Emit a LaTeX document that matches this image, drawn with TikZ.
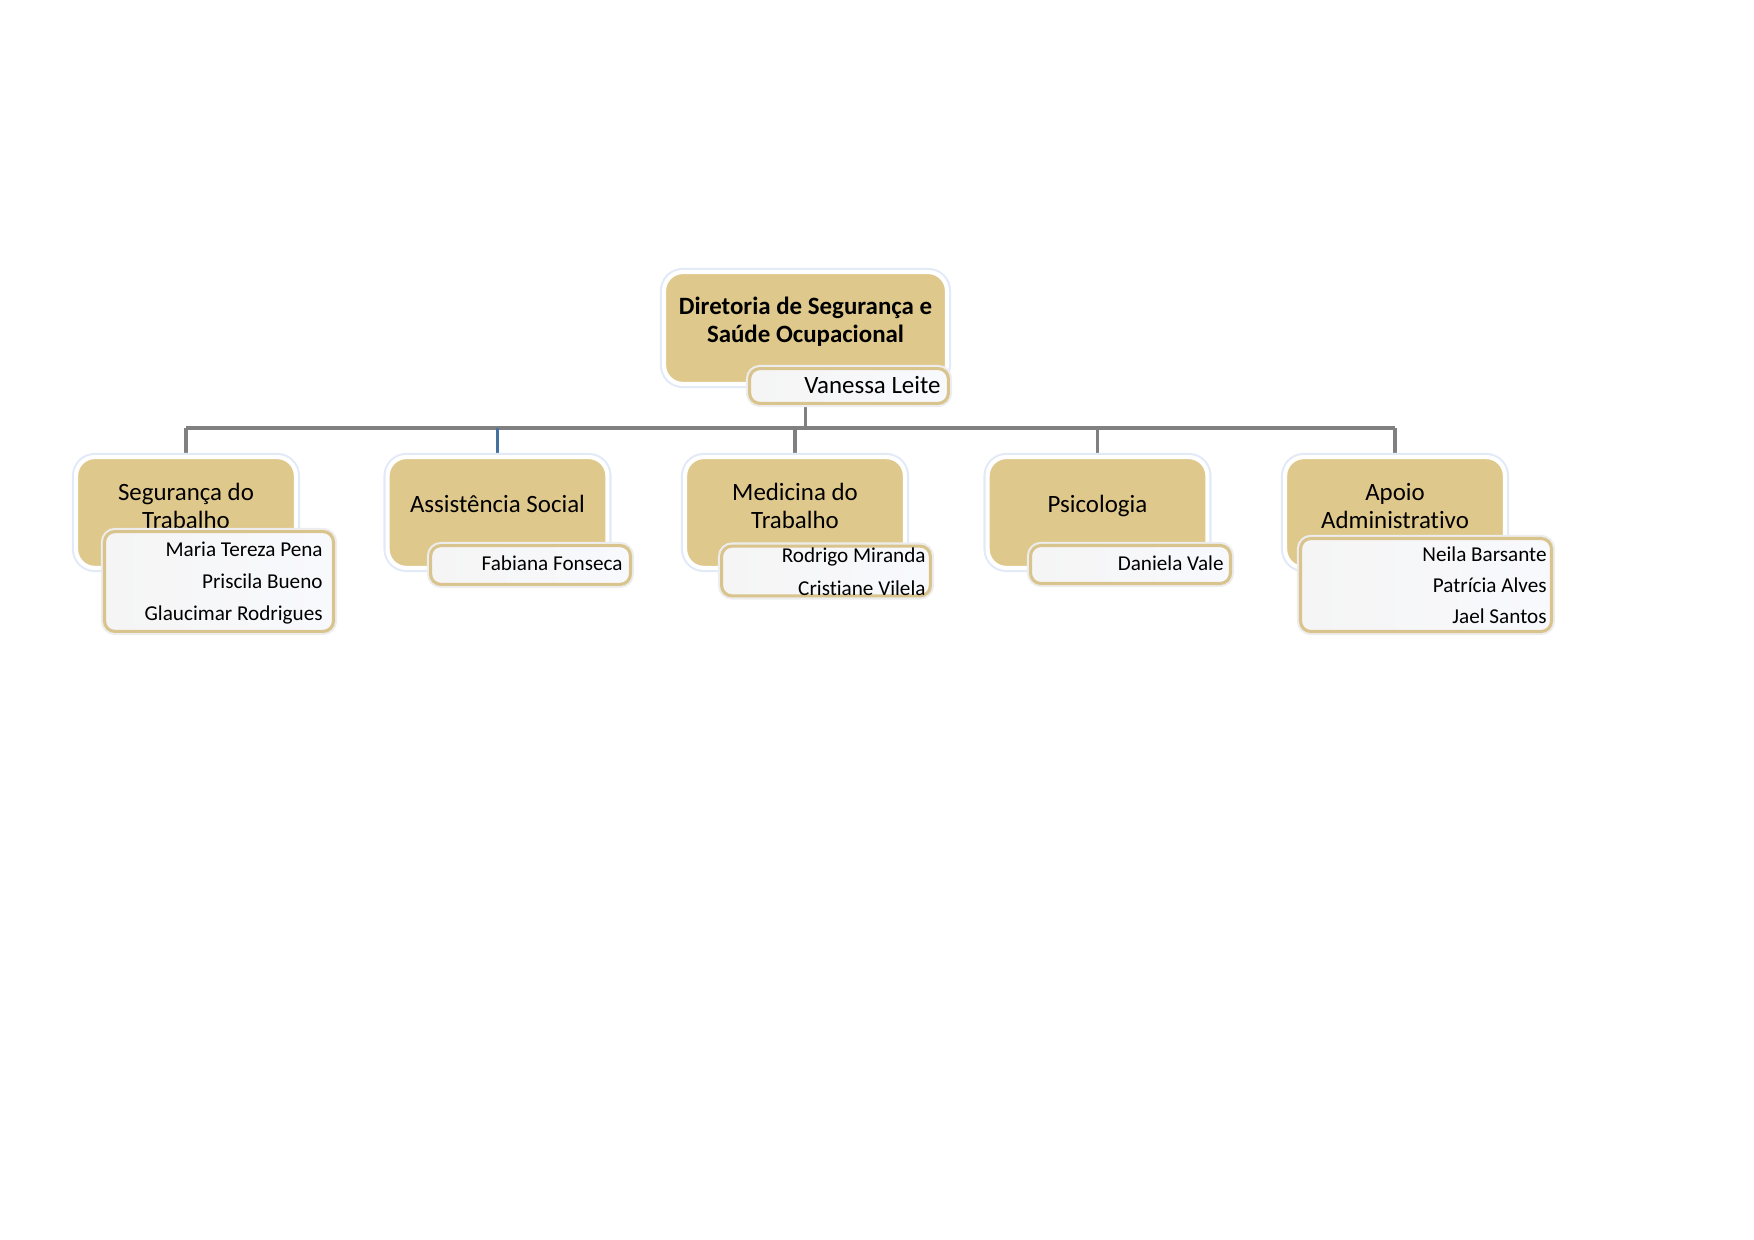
\documentclass[tikz,border=0pt]{standalone}
\usepackage{fontspec}
\setmainfont{Carlito}[Ligatures=NoCommon]
\usetikzlibrary{backgrounds}
\definecolor{boxtan}{RGB}{223,200,139}
\definecolor{tanborder}{RGB}{217,196,142}
\definecolor{glow}{RGB}{226,234,247}
\definecolor{conngray}{RGB}{128,128,128}
\definecolor{connblue}{RGB}{68,114,160}
\definecolor{nameL}{RGB}{245,245,245}
\definecolor{nameR}{RGB}{248,249,253}
\begin{document}
\begin{tikzpicture}[x=0.48181pt,y=-0.48181pt,
  mainbox/.style={draw=white, line width=2pt, fill=boxtan, rounded corners=9pt,
    minimum width=105.9pt, minimum height=53.4pt, inner sep=0pt,
    preaction={draw=glow, line width=4pt}},
  maintext/.style={align=center, font=\fontsize{12}{13.5}\selectfont, inner sep=0pt},
  namebox/.style={draw=tanborder, line width=1.5pt, rounded corners=5pt,
    left color=nameL, right color=nameR, inner sep=0pt,
    preaction={draw=black!7, line width=3.5pt}},
  nametext/.style={anchor=base east, font=\fontsize{10.2}{12}\selectfont, inner sep=0pt},
  conn/.style={draw=conngray, line width=1.7pt},
  connb/.style={draw=connblue, line width=1.7pt}
]
\useasboundingbox (0,0) rectangle (1754,1240);

% top
\node[mainbox, minimum width=136.3pt, minimum height=53.9pt] (top) at (805.5,328) {};
\node[maintext, font=\bfseries\fontsize{12}{13.5}\selectfont] (toptxt) at (805.5,322) {Diretoria de Segurança e\\Saúde Ocupacional};
\node[namebox, minimum width=95.8pt, minimum height=16.8pt] (topnames) at (849,386) {};
\node[nametext, font=\fontsize{12}{13}\selectfont] (vanessa) at (941,394) {Vanessa Leite};

% children
\node[mainbox] (seg) at (186,512.5) {};
\node[maintext] (segtxt) at (186,506) {Segurança do\\Trabalho};
\node[mainbox] (asst) at (497.5,512.5) {};
\node[maintext, anchor=base] (assttxt) at (497.5,513) {Assistência Social};
\node[mainbox] (med) at (795,512.5) {};
\node[maintext] (medtxt) at (795,506) {Medicina do\\Trabalho};
\node[mainbox] (psi) at (1097.5,512.5) {};
\node[maintext, anchor=base] (psitxt) at (1097.5,513) {Psicologia};
\node[mainbox] (apoio) at (1395,512.5) {};
\node[maintext] (apoiotxt) at (1395,506) {Apoio\\Administrativo};

% name boxes
\node[namebox, minimum width=110.3pt, minimum height=48.1pt] (segnames) at (219,581.5) {};
\node[nametext] (n1) at (323,557) {Maria Tereza Pena};
\node[nametext] (n2) at (323,589) {Priscila Bueno};
\node[nametext] (n3) at (323,621) {Glaucimar Rodrigues};

\node[namebox, minimum width=96.3pt, minimum height=18.7pt] (asstnames) at (530.5,565) {};
\node[nametext] (n4) at (623,571) {Fabiana Fonseca};

\node[namebox, minimum width=100.6pt, minimum height=24pt] (mednames) at (826,571) {};
\node[nametext] (n5) at (926,563) {Rodrigo Miranda};
\node[nametext] (n6) at (926,595) {Cristiane Vilela};

\node[namebox, minimum width=96.3pt, minimum height=18.3pt] (psinames) at (1130.5,564.5) {};
\node[nametext] (n7) at (1224,571) {Daniela Vale};

\node[namebox, minimum width=120.9pt, minimum height=44.8pt] (apoionames) at (1426,585) {};
\node[nametext] (n8) at (1547,562) {Neila Barsante};
\node[nametext] (n9) at (1547,593) {Patrícia Alves};
\node[nametext] (n10) at (1547,624) {Jael Santos};

% connectors
\coordinate (bus) at (805.5,428);
\begin{scope}[on background layer]
  \draw[conn] (top.south) -- (bus);
  \draw[conn] (seg.north |- bus) -- (apoio.north |- bus);
  \draw[conn] (seg.north |- bus) -- (seg.north);
  \draw[connb] (asst.north |- bus) -- (asst.north);
  \draw[conn] (med.north |- bus) -- (med.north);
  \draw[conn] (psi.north |- bus) -- (psi.north);
  \draw[conn] (apoio.north |- bus) -- (apoio.north);
\end{scope}
\end{tikzpicture}
\end{document}
